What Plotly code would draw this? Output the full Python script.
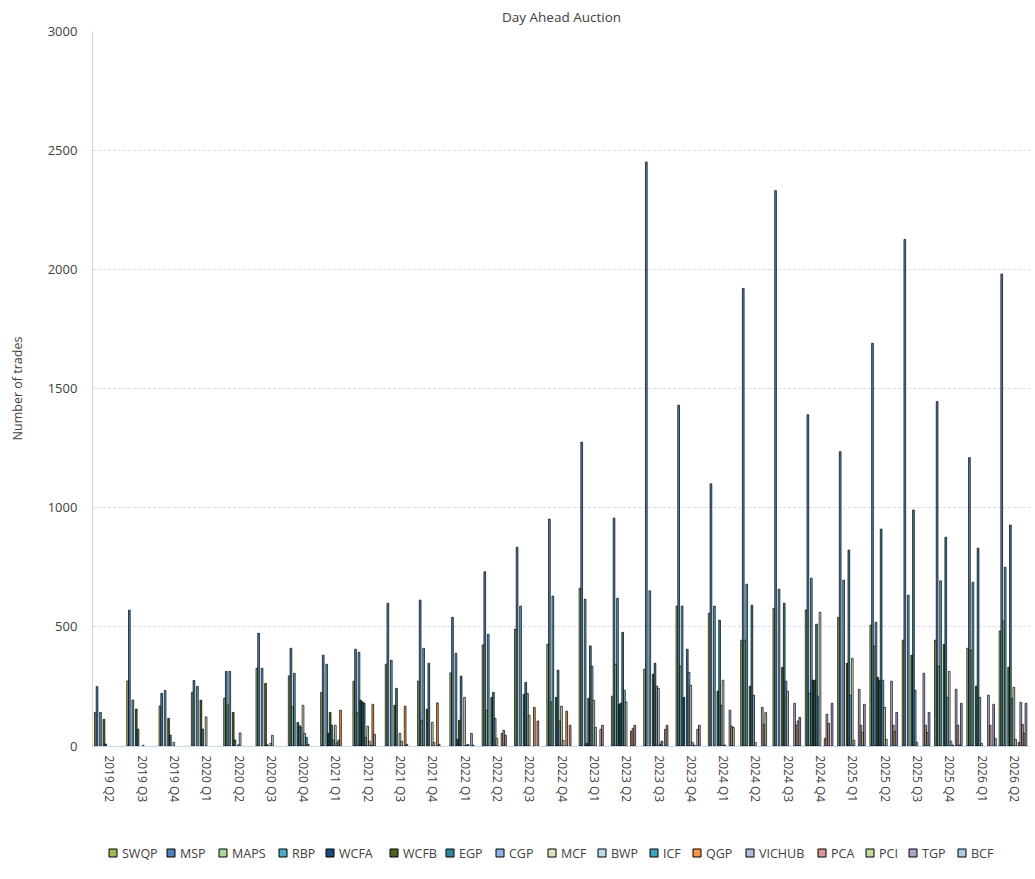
"""
Day Ahead Auction: number of trades per quarter by facility.
"""

import plotly.graph_objects as go

quarters = [
    "2019 Q2", "2019 Q3", "2019 Q4", "2020 Q1", "2020 Q2", "2020 Q3", "2020 Q4",
    "2021 Q1", "2021 Q2", "2021 Q3", "2021 Q4", "2022 Q1", "2022 Q2", "2022 Q3",
    "2022 Q4", "2023 Q1", "2023 Q2", "2023 Q3", "2023 Q4", "2024 Q1", "2024 Q2",
    "2024 Q3", "2024 Q4", "2025 Q1", "2025 Q2", "2025 Q3", "2025 Q4", "2026 Q1",
    "2026 Q2",
]

# trades per facility, one value per quarter
swqp = [141, 273, 168, 225, 201, 326, 294, 225, 272, 343, 272, 307, 424, 490, 427,
        662, 209, 322, 587, 557, 444, 578, 571, 540, 507, 444, 444, 410, 482]
msp = [249, 570, 221, 275, 313, 473, 410, 381, 406, 599, 612, 540, 731, 834, 952,
       1275, 956, 2450, 1430, 1100, 1920, 2330, 1390, 1235, 1690, 2125, 1445, 1210, 1980]
maps = [0, 0, 0, 0, 172, 0, 164, 0, 141, 0, 108, 0, 150, 0, 185,
        0, 343, 0, 335, 0, 444, 0, 221, 0, 419, 0, 335, 402, 524]
rbp = [141, 193, 233, 250, 313, 326, 305, 343, 393, 360, 410, 389, 469, 587, 629,
       616, 620, 651, 587, 587, 679, 658, 704, 696, 519, 633, 693, 687, 750]
wcfa = [0, 0, 0, 0, 0, 0, 0, 53, 192, 0, 0, 28, 0, 0, 0,
        11, 175, 0, 204, 0, 0, 0, 276, 0, 288, 0, 0, 0, 0]
wcfb = [112, 155, 116, 192, 141, 263, 99, 141, 185, 171, 154, 108, 204, 217, 204,
        200, 180, 301, 0, 230, 251, 330, 276, 347, 276, 381, 427, 251, 330]
egp = [8, 71, 46, 71, 25, 5, 85, 87, 180, 242, 347, 293, 225, 267, 318,
       420, 477, 347, 406, 528, 591, 599, 511, 822, 910, 990, 876, 830, 927]
cgp = [0, 0, 0, 0, 0, 0, 78, 25, 36, 0, 0, 0, 116, 221, 105,
       335, 234, 251, 309, 171, 213, 272, 209, 213, 276, 234, 204, 204, 200]
mcf = [0, 0, 15, 122, 5, 11, 171, 87, 83, 53, 99, 204, 32, 129, 167,
       192, 185, 242, 255, 276, 15, 230, 561, 368, 162, 15, 313, 11, 246]
bwp = [0, 3, 0, 0, 55, 45, 53, 14, 20, 20, 15, 3, 0, 0, 24,
       78, 0, 7, 15, 4, 0, 0, 0, 24, 28, 0, 20, 0, 28]
icf = [0, 0, 0, 0, 0, 0, 36, 25, 3, 0, 0, 7, 0, 0, 0,
       0, 0, 20, 4, 0, 0, 0, 0, 0, 0, 0, 4, 0, 0]
qgp = [0, 0, 0, 0, 0, 0, 7, 150, 175, 167, 181, 0, 53, 162, 146,
       0, 62, 0, 0, 0, 0, 0, 32, 0, 0, 0, 0, 0, 15]
vichub = [0, 0, 0, 0, 0, 0, 0, 0, 49, 7, 7, 53, 66, 0, 0,
          70, 74, 70, 70, 150, 162, 179, 133, 238, 272, 305, 238, 213, 183]
pca = [0, 0, 0, 0, 0, 0, 0, 0, 0, 0, 0, 3, 45, 105, 87,
       87, 87, 87, 87, 83, 91, 87, 95, 87, 87, 87, 87, 87, 91]
pci = [0, 0, 0, 0, 0, 0, 0, 0, 0, 0, 0, 0, 0, 0, 0,
       0, 0, 0, 0, 78, 141, 105, 0, 57, 62, 57, 4, 0, 53]
tgp = [0, 0, 0, 0, 0, 0, 0, 0, 0, 0, 0, 0, 0, 0, 0,
       0, 0, 0, 0, 0, 0, 120, 179, 175, 141, 141, 179, 175, 179]
bcf = [0, 0, 0, 0, 0, 0, 0, 0, 0, 0, 0, 0, 0, 0, 0,
       0, 0, 0, 0, 0, 0, 0, 0, 0, 0, 0, 0, 32, 0]

series = [
    ("SWQP", swqp, "#9BBB59"),
    ("MSP", msp, "#4F81BD"),
    ("MAPS", maps, "#A9D89A"),
    ("RBP", rbp, "#4BACC6"),
    ("WCFA", wcfa, "#1F497D"),
    ("WCFB", wcfb, "#4F6228"),
    ("EGP", egp, "#31859C"),
    ("CGP", cgp, "#8EB4E3"),
    ("MCF", mcf, "#D7E4BD"),
    ("BWP", bwp, "#B7DEE8"),
    ("ICF", icf, "#3AA3BF"),
    ("QGP", qgp, "#F79646"),
    ("VICHUB", vichub, "#B3BCDB"),
    ("PCA", pca, "#D99694"),
    ("PCI", pci, "#C3D69B"),
    ("TGP", tgp, "#B3A2C7"),
    ("BCF", bcf, "#A9CCE0"),
]

# legend square left edges in pixels (one row under the axis)
legend_px = [109, 167, 219, 279, 326, 390, 446, 496, 548, 598, 650, 693, 746, 818, 866, 909, 958]

W, H = 1035, 879
L, R, T, B = 93, 5, 31, 133
plot_w = W - L - R
plot_h = H - T - B

fig = go.Figure()
for name, vals, col in series:
    # empty quarters get no bar (avoids an outline stroke on the baseline)
    fig.add_trace(go.Bar(
        x=quarters, y=[v if v else None for v in vals], name=name,
        marker=dict(color=col, line=dict(color="black", width=0.7)),
        showlegend=False,
    ))

# hand-built one-row legend
sq = 8
leg_y = (H - B - 853) / plot_h
for (name, vals, col), px in zip(series, legend_px):
    x0 = (px - L) / plot_w
    fig.add_shape(type="rect", xref="paper", yref="paper",
                  x0=x0, x1=x0 + sq / plot_w,
                  y0=leg_y - sq / 2 / plot_h, y1=leg_y + sq / 2 / plot_h,
                  fillcolor=col, line=dict(color="black", width=1))
    fig.add_annotation(x=(px + sq + 3 - L) / plot_w, y=leg_y, xref="paper", yref="paper",
                       text=name, showarrow=False, xanchor="left", yanchor="middle",
                       font=dict(size=12.5, color="#404040"))

fig.update_layout(
    width=W, height=H,
    margin=dict(l=L, r=R, t=T, b=B),
    barmode="group",
    bargap=0.09,
    bargroupgap=0,
    plot_bgcolor="white",
    paper_bgcolor="white",
    font=dict(family="Open Sans, sans-serif", color="#404040"),
    title=dict(text="Day Ahead Auction", x=(L + plot_w / 2) / W, xanchor="center",
               y=1 - 17 / H, yanchor="middle", font=dict(size=13.5, color="#404040")),
)

fig.update_xaxes(
    type="category",
    tickangle=90,
    tickfont=dict(size=12, color="#404040"),
    showline=True, linecolor="#c6d9f1", linewidth=1,
    showgrid=False,
    ticklabelstandoff=6,
)

fig.update_yaxes(
    range=[0, 3000], dtick=500,
    tickfont=dict(size=13, color="#404040"),
    showgrid=True, gridcolor="#cfdff3", griddash="3px,2px", gridwidth=1,
    showline=True, linecolor="#c6d9f1", linewidth=1,
    zeroline=False,
    ticklabelstandoff=12,
    title=dict(text="Number of trades", font=dict(size=12.5, color="#404040"), standoff=22),
)

fig.write_html("out.html", config={"displayModeBar": False},
               post_script="document.body.style.margin='0';")
